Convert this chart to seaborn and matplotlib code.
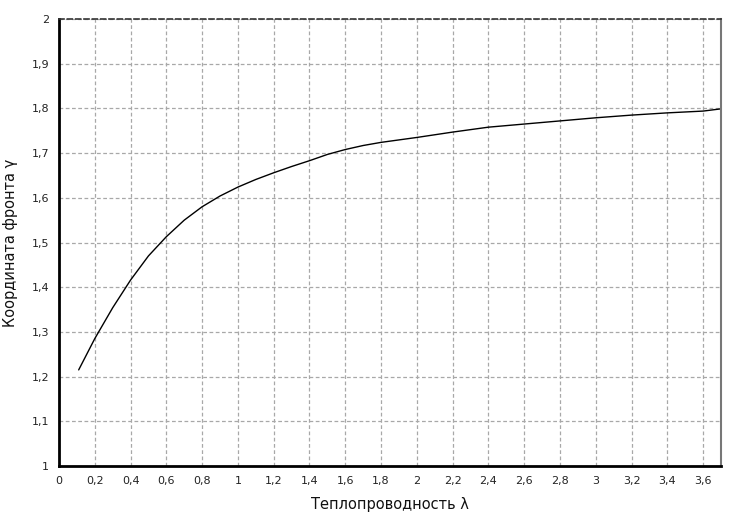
import numpy as np
import pandas as pd
import matplotlib
matplotlib.use("Agg")
import matplotlib.pyplot as plt
import seaborn as sns
from matplotlib.ticker import MultipleLocator, FuncFormatter

# Data
lam = [0.11, 0.2, 0.3, 0.4, 0.5, 0.6, 0.7, 0.8, 0.9, 1.0, 1.1, 1.2, 1.3, 1.4, 1.5, 1.6, 1.7,
       1.8, 2.0, 2.2, 2.4, 2.6, 2.8, 3.0, 3.2, 3.4, 3.6, 3.7]
gamma = [1.215, 1.285, 1.354, 1.416, 1.470, 1.513, 1.550, 1.580, 1.604, 1.624, 1.641, 1.656,
         1.670, 1.683, 1.697, 1.708, 1.717, 1.724, 1.735, 1.747, 1.758, 1.765, 1.772, 1.779,
         1.785, 1.790, 1.794, 1.799]
x_label = "Теплопроводность λ"
y_label = "Координата фронта γ"

df = pd.DataFrame({"lam": lam, "gamma": gamma})

sns.set_style("white")
plt.rcParams['font.family'] = ['DejaVu Sans']

fig = plt.figure(figsize=(7.34, 5.15), dpi=100)
ax = fig.add_axes([59/734, 49/515, (721-59)/734, (466-19)/515])

sns.lineplot(data=df, x="lam", y="gamma", ax=ax, color="black", linewidth=1.0)

ax.set_xlim(0, 3.7)
ax.set_ylim(1, 2)
ax.xaxis.set_major_locator(MultipleLocator(0.2))
ax.xaxis.set_minor_locator(MultipleLocator(0.04))
ax.yaxis.set_major_locator(MultipleLocator(0.1))
ax.yaxis.set_minor_locator(MultipleLocator(0.02))

def fmt(v, pos):
    s = f"{v:.1f}"
    if s.endswith(".0"):
        s = s[:-2]
    return s.replace(".", ",")

ax.xaxis.set_major_formatter(FuncFormatter(fmt))
ax.yaxis.set_major_formatter(FuncFormatter(fmt))

ax.grid(True, which="major", color="#a8a8a8", linestyle=(0, (3, 2)), linewidth=0.9)
ax.set_axisbelow(True)

ax.tick_params(axis="both", which="major", direction="out", length=4, width=0.8,
               color="#808080", labelsize=8, labelcolor="#222222", pad=3)
ax.tick_params(axis="both", which="minor", direction="out", length=2, width=0.8, color="#808080")

for side in ["left", "bottom"]:
    ax.spines[side].set_color("black")
    ax.spines[side].set_linewidth(2)
ax.spines["right"].set_color("#777777")
ax.spines["right"].set_linewidth(1.5)
ax.spines["top"].set_color("#333333")
ax.spines["top"].set_linewidth(1.2)
ax.spines["top"].set_linestyle((0, (3, 2)))

ax.set_xlabel(x_label, fontsize=10.5, color="#111111", labelpad=8)
ax.set_ylabel(y_label, fontsize=10.5, color="#111111", labelpad=10)

fig.savefig("out.png", dpi=100)
